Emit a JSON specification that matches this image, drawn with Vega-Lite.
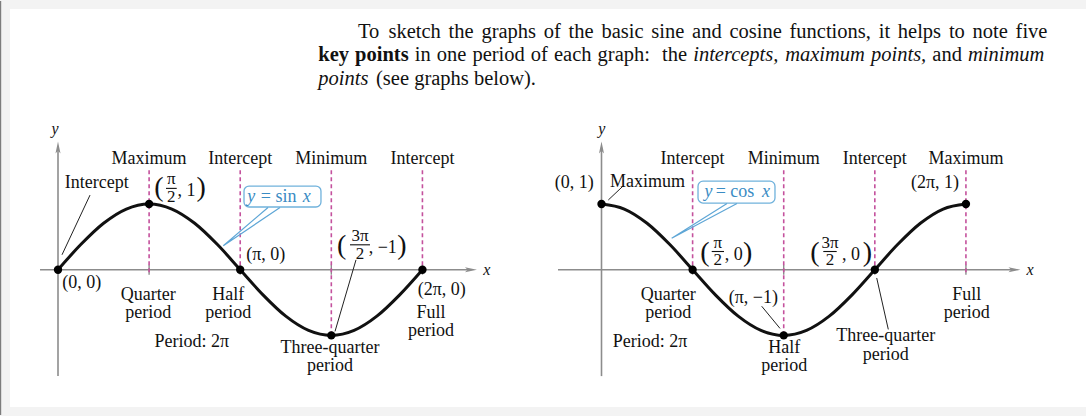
{
"$schema":"https://vega.github.io/schema/vega-lite/v6.json",
"width":1086,"height":416,
"autosize":{"type":"fit","contains":"padding"},
"padding":0,
"background":"#f3f3f3",
"config":{"view":{"stroke":null}},
"datasets":{
"page":[{"pos":10,"pos2":1086,"line":-0.2151,"line2":16.6625}],
"frame":[{"pos":0.6,"line":-0.5527,"line2":17.0}],
"words":[
{"w":"To","pos":358,"line":1,"role":"text"},
{"w":"sketch","pos":388.5,"line":1,"role":"text"},
{"w":"the","pos":448.6,"line":1,"role":"text"},
{"w":"graphs","pos":481.4,"line":1,"role":"text"},
{"w":"of","pos":543.8,"line":1,"role":"text"},
{"w":"the","pos":568.6,"line":1,"role":"text"},
{"w":"basic","pos":601.4,"line":1,"role":"text"},
{"w":"sine","pos":651.3,"line":1,"role":"text"},
{"w":"and","pos":692.1,"line":1,"role":"text"},
{"w":"cosine","pos":729.4,"line":1,"role":"text"},
{"w":"functions,","pos":789.5,"line":1,"role":"text"},
{"w":"it","pos":878.7,"line":1,"role":"text"},
{"w":"helps","pos":897.8,"line":1,"role":"text"},
{"w":"to","pos":948.9,"line":1,"role":"text"},
{"w":"note","pos":972.6,"line":1,"role":"text"},
{"w":"five","pos":1015.6,"line":1,"role":"text"},
{"w":"key","pos":318.3,"line":2,"role":"key term"},
{"w":"points","pos":355.1,"line":2,"role":"key term"},
{"w":"in","pos":414.7,"line":2,"role":"text"},
{"w":"one","pos":436.7,"line":2,"role":"text"},
{"w":"period","pos":472.4,"line":2,"role":"text"},
{"w":"of","pos":530.8,"line":2,"role":"text"},
{"w":"each","pos":554,"line":2,"role":"text"},
{"w":"graph:","pos":597.6,"line":2,"role":"text"},
{"w":"the","pos":662.1,"line":2,"role":"text"},
{"w":"intercepts,","pos":693.2,"line":2,"role":"emphasis"},
{"w":"maximum","pos":785.2,"line":2,"role":"emphasis"},
{"w":"points,","pos":871,"line":2,"role":"emphasis"},
{"w":"and","pos":932.3,"line":2,"role":"text"},
{"w":"minimum","pos":968,"line":2,"role":"emphasis"},
{"w":"points","pos":318.3,"line":3,"role":"emphasis"},
{"w":"(see graphs below).","pos":376,"line":3,"role":"text"}
],
"curve":[
{"panel":"sin","x":0,"y":0},{"panel":"sin","x":0.3927,"y":0.3827},{"panel":"sin","x":0.7854,"y":0.7071},{"panel":"sin","x":1.1781,"y":0.9239},{"panel":"sin","x":1.5708,"y":1},{"panel":"sin","x":1.9635,"y":0.9239},{"panel":"sin","x":2.3562,"y":0.7071},{"panel":"sin","x":2.7489,"y":0.3827},{"panel":"sin","x":3.1416,"y":0},{"panel":"sin","x":3.5343,"y":-0.3827},{"panel":"sin","x":3.927,"y":-0.7071},{"panel":"sin","x":4.3197,"y":-0.9239},{"panel":"sin","x":4.7124,"y":-1},{"panel":"sin","x":5.1051,"y":-0.9239},{"panel":"sin","x":5.4978,"y":-0.7071},{"panel":"sin","x":5.8905,"y":-0.3827},{"panel":"sin","x":6.2832,"y":0},
{"panel":"cos","x":0,"y":1},{"panel":"cos","x":0.3927,"y":0.9239},{"panel":"cos","x":0.7854,"y":0.7071},{"panel":"cos","x":1.1781,"y":0.3827},{"panel":"cos","x":1.5708,"y":0},{"panel":"cos","x":1.9635,"y":-0.3827},{"panel":"cos","x":2.3562,"y":-0.7071},{"panel":"cos","x":2.7489,"y":-0.9239},{"panel":"cos","x":3.1416,"y":-1},{"panel":"cos","x":3.5343,"y":-0.9239},{"panel":"cos","x":3.927,"y":-0.7071},{"panel":"cos","x":4.3197,"y":-0.3827},{"panel":"cos","x":4.7124,"y":0},{"panel":"cos","x":5.1051,"y":0.3827},{"panel":"cos","x":5.4978,"y":0.7071},{"panel":"cos","x":5.8905,"y":0.9239},{"panel":"cos","x":6.2832,"y":1}
],
"keypts":[
{"panel":"sin","x":0,"y":0},{"panel":"sin","x":1.5708,"y":1},{"panel":"sin","x":3.1416,"y":0},{"panel":"sin","x":4.7124,"y":-1},{"panel":"sin","x":6.2832,"y":0},
{"panel":"cos","x":0,"y":1},{"panel":"cos","x":1.5708,"y":0},{"panel":"cos","x":3.1416,"y":-1},{"panel":"cos","x":4.7124,"y":0},{"panel":"cos","x":6.2832,"y":1}
],
"segs":[
{"panel":"sin","kind":"axis","x":-0.31,"y":0,"x2":7.12,"y2":0},
{"panel":"sin","kind":"axis","x":0,"y":-1.62,"x2":0,"y2":1.86},
{"panel":"sin","kind":"tick","x":1.5708,"y":-0.076,"x2":1.5708,"y2":0.076},
{"panel":"sin","kind":"tick","x":3.1416,"y":-0.076,"x2":3.1416,"y2":0.076},
{"panel":"sin","kind":"tick","x":4.7124,"y":-0.076,"x2":4.7124,"y2":0.076},
{"panel":"sin","kind":"tick","x":6.2832,"y":-0.076,"x2":6.2832,"y2":0.076},
{"panel":"sin","kind":"guide","x":1.5708,"y":1.515,"x2":1.5708,"y2":-0.076},
{"panel":"sin","kind":"guide","x":3.1416,"y":1.515,"x2":3.1416,"y2":0},
{"panel":"sin","kind":"guide","x":4.7124,"y":1.515,"x2":4.7124,"y2":-1},
{"panel":"sin","kind":"guide","x":6.2832,"y":1.515,"x2":6.2832,"y2":0},
{"panel":"sin","kind":"leader","x":0.552,"y":1.136,"x2":0.069,"y2":0.227},
{"panel":"sin","kind":"leader","x":5.138,"y":0.15,"x2":4.776,"y2":-0.94},
{"panel":"sin","kind":"bar","x":1.862,"y":1.238,"x2":2.047,"y2":1.238},
{"panel":"sin","kind":"bar","x":5.034,"y":0.379,"x2":5.379,"y2":0.379},
{"panel":"cos","kind":"axis","x":-0.75,"y":0,"x2":7.12,"y2":0},
{"panel":"cos","kind":"axis","x":0,"y":-1.62,"x2":0,"y2":1.86},
{"panel":"cos","kind":"tick","x":1.5708,"y":-0.076,"x2":1.5708,"y2":0.076},
{"panel":"cos","kind":"tick","x":3.1416,"y":-0.076,"x2":3.1416,"y2":0.076},
{"panel":"cos","kind":"tick","x":4.7124,"y":-0.076,"x2":4.7124,"y2":0.076},
{"panel":"cos","kind":"tick","x":6.2832,"y":-0.076,"x2":6.2832,"y2":0.076},
{"panel":"cos","kind":"guide","x":1.5708,"y":1.515,"x2":1.5708,"y2":0},
{"panel":"cos","kind":"guide","x":3.1416,"y":1.515,"x2":3.1416,"y2":-1},
{"panel":"cos","kind":"guide","x":4.7124,"y":1.515,"x2":4.7124,"y2":0},
{"panel":"cos","kind":"guide","x":6.2832,"y":1.515,"x2":6.2832,"y2":-0.076},
{"panel":"cos","kind":"leader","x":0.376,"y":1.277,"x2":0.117,"y2":1.061},
{"panel":"cos","kind":"leader","x":2.762,"y":-0.556,"x2":3.078,"y2":-0.894},
{"panel":"cos","kind":"leader","x":4.745,"y":-0.126,"x2":4.945,"y2":-0.909},
{"panel":"cos","kind":"bar","x":1.9,"y":0.277,"x2":2.112,"y2":0.277},
{"panel":"cos","kind":"bar","x":3.824,"y":0.277,"x2":4.055,"y2":0.277}
],
"arrows":[
{"panel":"sin","dir":"right","x":7.12,"y":0},{"panel":"sin","dir":"up","x":0,"y":1.86},
{"panel":"cos","dir":"right","x":7.12,"y":0},{"panel":"cos","dir":"up","x":0,"y":1.86}
],
"boxes":[
{"panel":"sin","x":3.207,"y":0.955,"x2":4.534,"y2":1.273},
{"panel":"cos","x":1.664,"y":1.015,"x2":2.991,"y2":1.348}
],
"pointers":[
{"panel":"sin","i":0,"x":3.621,"y":0.947},{"panel":"sin","i":1,"x":2.85,"y":0.364},{"panel":"sin","i":2,"x":3.828,"y":0.947},
{"panel":"cos","i":0,"x":2.164,"y":1.008},{"panel":"cos","i":1,"x":1.21,"y":0.48},{"panel":"cos","i":2,"x":2.336,"y":1.008}
],
"labels":[
{"panel":"sin","kind":"label","t":"Maximum","x":1.5708,"y":1.682},
{"panel":"sin","kind":"label","t":"Intercept","x":3.1416,"y":1.682},
{"panel":"sin","kind":"label","t":"Minimum","x":4.7124,"y":1.682},
{"panel":"sin","kind":"label","t":"Intercept","x":6.2832,"y":1.682},
{"panel":"sin","kind":"label","t":"Intercept","x":0.667,"y":1.314},
{"panel":"sin","kind":"label","t":"(0, 0)","x":0.409,"y":-0.202},
{"panel":"sin","kind":"label","t":"(π, 0)","x":3.583,"y":0.227},
{"panel":"sin","kind":"label","t":"Quarter","x":1.557,"y":-0.379},
{"panel":"sin","kind":"label","t":"period","x":1.557,"y":-0.656},
{"panel":"sin","kind":"label","t":"Half","x":2.937,"y":-0.379},
{"panel":"sin","kind":"label","t":"period","x":2.937,"y":-0.656},
{"panel":"sin","kind":"label","t":"Period: 2π","x":2.305,"y":-1.101},
{"panel":"sin","kind":"label","t":"Three-quarter","x":4.69,"y":-1.187},
{"panel":"sin","kind":"label","t":"period","x":4.69,"y":-1.465},
{"panel":"sin","kind":"label","t":"(2π, 0)","x":6.615,"y":-0.303},
{"panel":"sin","kind":"label","t":"Full","x":6.431,"y":-0.656},
{"panel":"sin","kind":"label","t":"period","x":6.431,"y":-0.934},
{"panel":"sin","kind":"label","t":", 1","x":2.215,"y":1.202},
{"panel":"sin","kind":"label","t":", −1","x":5.6,"y":0.329},
{"panel":"sin","kind":"paren","t":"(","x":1.741,"y":1.25},
{"panel":"sin","kind":"paren","t":")","x":2.47,"y":1.25},
{"panel":"sin","kind":"paren","t":"(","x":4.891,"y":0.367},
{"panel":"sin","kind":"paren","t":")","x":5.93,"y":0.367},
{"panel":"sin","kind":"frac","t":"π","x":1.952,"y":1.374},
{"panel":"sin","kind":"frac","t":"2","x":1.952,"y":1.112},
{"panel":"sin","kind":"frac","t":"3π","x":5.207,"y":0.512},
{"panel":"sin","kind":"frac","t":"2","x":5.207,"y":0.245},
{"panel":"sin","kind":"var","t":"y","x":-0.052,"y":2.147},
{"panel":"sin","kind":"var","t":"x","x":7.391,"y":0},
{"panel":"sin","kind":"callout","t":"= sin","x":3.805,"y":1.11},
{"panel":"sin","kind":"calloutVar","t":"y","x":3.33,"y":1.11},
{"panel":"sin","kind":"calloutVar","t":"x","x":4.288,"y":1.11},
{"panel":"cos","kind":"label","t":"Intercept","x":1.5708,"y":1.682},
{"panel":"cos","kind":"label","t":"Minimum","x":3.1416,"y":1.682},
{"panel":"cos","kind":"label","t":"Intercept","x":4.7124,"y":1.682},
{"panel":"cos","kind":"label","t":"Maximum","x":6.2832,"y":1.682},
{"panel":"cos","kind":"label","t":"(0, 1)","x":-0.471,"y":1.313},
{"panel":"cos","kind":"label","t":"Maximum","x":0.793,"y":1.338},
{"panel":"cos","kind":"label","t":"(2π, 1)","x":5.75,"y":1.313},
{"panel":"cos","kind":"label","t":"Quarter","x":1.152,"y":-0.379},
{"panel":"cos","kind":"label","t":"period","x":1.152,"y":-0.656},
{"panel":"cos","kind":"label","t":"(π, −1)","x":2.617,"y":-0.429},
{"panel":"cos","kind":"label","t":"Period: 2π","x":0.836,"y":-1.101},
{"panel":"cos","kind":"label","t":"Half","x":3.152,"y":-1.187},
{"panel":"cos","kind":"label","t":"period","x":3.152,"y":-1.465},
{"panel":"cos","kind":"label","t":"Three-quarter","x":4.9,"y":-1.015},
{"panel":"cos","kind":"label","t":"period","x":4.9,"y":-1.3},
{"panel":"cos","kind":"label","t":"Full","x":6.296,"y":-0.379},
{"panel":"cos","kind":"label","t":"period","x":6.296,"y":-0.656},
{"panel":"cos","kind":"label","t":", 0","x":2.28,"y":0.227},
{"panel":"cos","kind":"label","t":", 0","x":4.302,"y":0.227},
{"panel":"cos","kind":"paren","t":"(","x":1.784,"y":0.253},
{"panel":"cos","kind":"paren","t":")","x":2.52,"y":0.253},
{"panel":"cos","kind":"paren","t":"(","x":3.681,"y":0.253},
{"panel":"cos","kind":"paren","t":")","x":4.586,"y":0.253},
{"panel":"cos","kind":"frac","t":"π","x":2.006,"y":0.41},
{"panel":"cos","kind":"frac","t":"2","x":2.006,"y":0.143},
{"panel":"cos","kind":"frac","t":"3π","x":3.94,"y":0.41},
{"panel":"cos","kind":"frac","t":"2","x":3.94,"y":0.143},
{"panel":"cos","kind":"var","t":"y","x":0.003,"y":2.147},
{"panel":"cos","kind":"var","t":"x","x":7.388,"y":0},
{"panel":"cos","kind":"callout","t":"= cos","x":2.302,"y":1.182},
{"panel":"cos","kind":"calloutVar","t":"y","x":1.845,"y":1.182},
{"panel":"cos","kind":"calloutVar","t":"x","x":2.836,"y":1.182}
]
},
"layer":[
{"layer":[
{"data":{"name":"page"},"mark":{"type":"rect","fill":"#ffffff"},"encoding":{"x":{"field":"pos","type":"quantitative","scale":{"domain":[0,1086],"nice":false,"zero":false},"axis":null},"x2":{"field":"pos2"},"y":{"field":"line","type":"quantitative","scale":{"domain":[-0.5527,17.0],"reverse":true,"nice":false,"zero":false},"axis":null},"y2":{"field":"line2"}}},
{"data":{"name":"frame"},"mark":{"type":"rule","color":"#7d7d7d","strokeWidth":1.2},"encoding":{"x":{"field":"pos","type":"quantitative","scale":{"domain":[0,1086],"nice":false,"zero":false},"axis":null},"y":{"field":"line","type":"quantitative","scale":{"domain":[-0.5527,17.0],"reverse":true,"nice":false,"zero":false},"axis":null},"y2":{"field":"line2"}}},
{"data":{"name":"words"},"transform":[{"filter":"datum.role==='text'"}],"mark":{"type":"text","font":"Liberation Serif","fontSize":20.5,"align":"left","baseline":"alphabetic","color":"#111111"},"encoding":{"x":{"field":"pos","type":"quantitative","scale":{"domain":[0,1086],"nice":false,"zero":false},"axis":null},"y":{"field":"line","type":"quantitative","scale":{"domain":[-0.5527,17.0],"reverse":true,"nice":false,"zero":false},"axis":null},"text":{"field":"w","type":"nominal"}}},
{"data":{"name":"words"},"transform":[{"filter":"datum.role==='key term'"}],"mark":{"type":"text","font":"Liberation Serif","fontSize":20.5,"fontWeight":"bold","align":"left","baseline":"alphabetic","color":"#111111"},"encoding":{"x":{"field":"pos","type":"quantitative","scale":{"domain":[0,1086],"nice":false,"zero":false},"axis":null},"y":{"field":"line","type":"quantitative","scale":{"domain":[-0.5527,17.0],"reverse":true,"nice":false,"zero":false},"axis":null},"text":{"field":"w","type":"nominal"}}},
{"data":{"name":"words"},"transform":[{"filter":"datum.role==='emphasis'"}],"mark":{"type":"text","font":"Liberation Serif","fontSize":20.5,"fontStyle":"italic","align":"left","baseline":"alphabetic","color":"#111111"},"encoding":{"x":{"field":"pos","type":"quantitative","scale":{"domain":[0,1086],"nice":false,"zero":false},"axis":null},"y":{"field":"line","type":"quantitative","scale":{"domain":[-0.5527,17.0],"reverse":true,"nice":false,"zero":false},"axis":null},"text":{"field":"w","type":"nominal"}}}
]},
{"layer":[
{"data":{"name":"segs"},"transform":[{"filter":"datum.panel==='sin' && datum.kind==='axis'"}],"mark":{"type":"rule","color":"#8c8c8c","strokeWidth":1.6},"encoding":{"x":{"field":"x","type":"quantitative","scale":{"domain":[-1,17.7241],"nice":false,"zero":false},"axis":null},"x2":{"field":"x2"},"y":{"field":"y","type":"quantitative","scale":{"domain":[-2.2121,4.0909],"nice":false,"zero":false},"axis":null},"y2":{"field":"y2"}}},
{"data":{"name":"segs"},"transform":[{"filter":"datum.panel==='sin' && datum.kind==='tick'"}],"mark":{"type":"rule","color":"#8c8c8c","strokeWidth":1.4},"encoding":{"x":{"field":"x","type":"quantitative","scale":{"domain":[-1,17.7241],"nice":false,"zero":false},"axis":null},"x2":{"field":"x2"},"y":{"field":"y","type":"quantitative","scale":{"domain":[-2.2121,4.0909],"nice":false,"zero":false},"axis":null},"y2":{"field":"y2"}}},
{"data":{"name":"segs"},"transform":[{"filter":"datum.panel==='sin' && datum.kind==='guide'"}],"mark":{"type":"rule","color":"#c4519d","strokeWidth":1.6,"strokeDash":[4,3]},"encoding":{"x":{"field":"x","type":"quantitative","scale":{"domain":[-1,17.7241],"nice":false,"zero":false},"axis":null},"x2":{"field":"x2"},"y":{"field":"y","type":"quantitative","scale":{"domain":[-2.2121,4.0909],"nice":false,"zero":false},"axis":null},"y2":{"field":"y2"}}},
{"data":{"name":"arrows"},"transform":[{"filter":"datum.panel==='sin'"}],"mark":{"type":"point","filled":true,"color":"#8c8c8c","size":144,"opacity":1},"encoding":{"x":{"field":"x","type":"quantitative","scale":{"domain":[-1,17.7241],"nice":false,"zero":false},"axis":null},"y":{"field":"y","type":"quantitative","scale":{"domain":[-2.2121,4.0909],"nice":false,"zero":false},"axis":null},"shape":{"field":"dir","type":"nominal","scale":{"domain":["right","up"],"range":["M1,0L-1,-0.42L-0.55,0L-1,0.42Z","M0,-1L-0.42,1L0,0.55L0.42,1Z"]},"legend":null}}},
{"data":{"name":"curve"},"transform":[{"filter":"datum.panel==='sin'"}],"mark":{"type":"line","color":"#111111","strokeWidth":3,"interpolate":"monotone"},"encoding":{"x":{"field":"x","type":"quantitative","scale":{"domain":[-1,17.7241],"nice":false,"zero":false},"axis":null},"y":{"field":"y","type":"quantitative","scale":{"domain":[-2.2121,4.0909],"nice":false,"zero":false},"axis":null}}},
{"data":{"name":"segs"},"transform":[{"filter":"datum.panel==='sin' && datum.kind==='leader'"}],"mark":{"type":"rule","color":"#222222","strokeWidth":1},"encoding":{"x":{"field":"x","type":"quantitative","scale":{"domain":[-1,17.7241],"nice":false,"zero":false},"axis":null},"x2":{"field":"x2"},"y":{"field":"y","type":"quantitative","scale":{"domain":[-2.2121,4.0909],"nice":false,"zero":false},"axis":null},"y2":{"field":"y2"}}},
{"data":{"name":"segs"},"transform":[{"filter":"datum.panel==='sin' && datum.kind==='bar'"}],"mark":{"type":"rule","color":"#111111","strokeWidth":1.1},"encoding":{"x":{"field":"x","type":"quantitative","scale":{"domain":[-1,17.7241],"nice":false,"zero":false},"axis":null},"x2":{"field":"x2"},"y":{"field":"y","type":"quantitative","scale":{"domain":[-2.2121,4.0909],"nice":false,"zero":false},"axis":null},"y2":{"field":"y2"}}},
{"data":{"name":"keypts"},"transform":[{"filter":"datum.panel==='sin'"}],"mark":{"type":"point","filled":true,"color":"#000000","size":70,"opacity":1},"encoding":{"x":{"field":"x","type":"quantitative","scale":{"domain":[-1,17.7241],"nice":false,"zero":false},"axis":null},"y":{"field":"y","type":"quantitative","scale":{"domain":[-2.2121,4.0909],"nice":false,"zero":false},"axis":null}}},
{"data":{"name":"boxes"},"transform":[{"filter":"datum.panel==='sin'"}],"mark":{"type":"rect","fill":"#ffffff","stroke":"#70b2dc","strokeWidth":1.3,"cornerRadius":5},"encoding":{"x":{"field":"x","type":"quantitative","scale":{"domain":[-1,17.7241],"nice":false,"zero":false},"axis":null},"x2":{"field":"x2"},"y":{"field":"y","type":"quantitative","scale":{"domain":[-2.2121,4.0909],"nice":false,"zero":false},"axis":null},"y2":{"field":"y2"}}},
{"data":{"name":"pointers"},"transform":[{"filter":"datum.panel==='sin'"}],"mark":{"type":"line","color":"#5ea6d6","strokeWidth":1.2},"encoding":{"x":{"field":"x","type":"quantitative","scale":{"domain":[-1,17.7241],"nice":false,"zero":false},"axis":null},"y":{"field":"y","type":"quantitative","scale":{"domain":[-2.2121,4.0909],"nice":false,"zero":false},"axis":null},"order":{"field":"i","type":"quantitative"}}},
{"data":{"name":"labels"},"transform":[{"filter":"datum.panel==='sin' && datum.kind==='label'"}],"mark":{"type":"text","font":"Liberation Serif","fontSize":18,"align":"center","baseline":"middle","color":"#111111"},"encoding":{"x":{"field":"x","type":"quantitative","scale":{"domain":[-1,17.7241],"nice":false,"zero":false},"axis":null},"y":{"field":"y","type":"quantitative","scale":{"domain":[-2.2121,4.0909],"nice":false,"zero":false},"axis":null},"text":{"field":"t","type":"nominal"}}},
{"data":{"name":"labels"},"transform":[{"filter":"datum.panel==='sin' && datum.kind==='paren'"}],"mark":{"type":"text","font":"Liberation Serif","fontSize":28,"align":"center","baseline":"middle","color":"#111111"},"encoding":{"x":{"field":"x","type":"quantitative","scale":{"domain":[-1,17.7241],"nice":false,"zero":false},"axis":null},"y":{"field":"y","type":"quantitative","scale":{"domain":[-2.2121,4.0909],"nice":false,"zero":false},"axis":null},"text":{"field":"t","type":"nominal"}}},
{"data":{"name":"labels"},"transform":[{"filter":"datum.panel==='sin' && datum.kind==='frac'"}],"mark":{"type":"text","font":"Liberation Serif","fontSize":17,"align":"center","baseline":"middle","color":"#111111"},"encoding":{"x":{"field":"x","type":"quantitative","scale":{"domain":[-1,17.7241],"nice":false,"zero":false},"axis":null},"y":{"field":"y","type":"quantitative","scale":{"domain":[-2.2121,4.0909],"nice":false,"zero":false},"axis":null},"text":{"field":"t","type":"nominal"}}},
{"data":{"name":"labels"},"transform":[{"filter":"datum.panel==='sin' && datum.kind==='var'"}],"mark":{"type":"text","font":"Liberation Serif","fontSize":16,"fontStyle":"italic","align":"center","baseline":"middle","color":"#111111"},"encoding":{"x":{"field":"x","type":"quantitative","scale":{"domain":[-1,17.7241],"nice":false,"zero":false},"axis":null},"y":{"field":"y","type":"quantitative","scale":{"domain":[-2.2121,4.0909],"nice":false,"zero":false},"axis":null},"text":{"field":"t","type":"nominal"}}},
{"data":{"name":"labels"},"transform":[{"filter":"datum.panel==='sin' && datum.kind==='callout'"}],"mark":{"type":"text","font":"Liberation Serif","fontSize":18,"align":"center","baseline":"middle","color":"#3a8cc4"},"encoding":{"x":{"field":"x","type":"quantitative","scale":{"domain":[-1,17.7241],"nice":false,"zero":false},"axis":null},"y":{"field":"y","type":"quantitative","scale":{"domain":[-2.2121,4.0909],"nice":false,"zero":false},"axis":null},"text":{"field":"t","type":"nominal"}}},
{"data":{"name":"labels"},"transform":[{"filter":"datum.panel==='sin' && datum.kind==='calloutVar'"}],"mark":{"type":"text","font":"Liberation Serif","fontSize":18,"fontStyle":"italic","align":"center","baseline":"middle","color":"#3a8cc4"},"encoding":{"x":{"field":"x","type":"quantitative","scale":{"domain":[-1,17.7241],"nice":false,"zero":false},"axis":null},"y":{"field":"y","type":"quantitative","scale":{"domain":[-2.2121,4.0909],"nice":false,"zero":false},"axis":null},"text":{"field":"t","type":"nominal"}}}
]},
{"layer":[
{"data":{"name":"segs"},"transform":[{"filter":"datum.panel==='cos' && datum.kind==='axis'"}],"mark":{"type":"rule","color":"#8c8c8c","strokeWidth":1.6},"encoding":{"x":{"field":"x","type":"quantitative","scale":{"domain":[-10.3707,8.3534],"nice":false,"zero":false},"axis":null},"x2":{"field":"x2"},"y":{"field":"y","type":"quantitative","scale":{"domain":[-2.2121,4.0909],"nice":false,"zero":false},"axis":null},"y2":{"field":"y2"}}},
{"data":{"name":"segs"},"transform":[{"filter":"datum.panel==='cos' && datum.kind==='tick'"}],"mark":{"type":"rule","color":"#8c8c8c","strokeWidth":1.4},"encoding":{"x":{"field":"x","type":"quantitative","scale":{"domain":[-10.3707,8.3534],"nice":false,"zero":false},"axis":null},"x2":{"field":"x2"},"y":{"field":"y","type":"quantitative","scale":{"domain":[-2.2121,4.0909],"nice":false,"zero":false},"axis":null},"y2":{"field":"y2"}}},
{"data":{"name":"segs"},"transform":[{"filter":"datum.panel==='cos' && datum.kind==='guide'"}],"mark":{"type":"rule","color":"#c4519d","strokeWidth":1.6,"strokeDash":[4,3]},"encoding":{"x":{"field":"x","type":"quantitative","scale":{"domain":[-10.3707,8.3534],"nice":false,"zero":false},"axis":null},"x2":{"field":"x2"},"y":{"field":"y","type":"quantitative","scale":{"domain":[-2.2121,4.0909],"nice":false,"zero":false},"axis":null},"y2":{"field":"y2"}}},
{"data":{"name":"arrows"},"transform":[{"filter":"datum.panel==='cos'"}],"mark":{"type":"point","filled":true,"color":"#8c8c8c","size":144,"opacity":1},"encoding":{"x":{"field":"x","type":"quantitative","scale":{"domain":[-10.3707,8.3534],"nice":false,"zero":false},"axis":null},"y":{"field":"y","type":"quantitative","scale":{"domain":[-2.2121,4.0909],"nice":false,"zero":false},"axis":null},"shape":{"field":"dir","type":"nominal","scale":{"domain":["right","up"],"range":["M1,0L-1,-0.42L-0.55,0L-1,0.42Z","M0,-1L-0.42,1L0,0.55L0.42,1Z"]},"legend":null}}},
{"data":{"name":"curve"},"transform":[{"filter":"datum.panel==='cos'"}],"mark":{"type":"line","color":"#111111","strokeWidth":3,"interpolate":"monotone"},"encoding":{"x":{"field":"x","type":"quantitative","scale":{"domain":[-10.3707,8.3534],"nice":false,"zero":false},"axis":null},"y":{"field":"y","type":"quantitative","scale":{"domain":[-2.2121,4.0909],"nice":false,"zero":false},"axis":null}}},
{"data":{"name":"segs"},"transform":[{"filter":"datum.panel==='cos' && datum.kind==='leader'"}],"mark":{"type":"rule","color":"#222222","strokeWidth":1},"encoding":{"x":{"field":"x","type":"quantitative","scale":{"domain":[-10.3707,8.3534],"nice":false,"zero":false},"axis":null},"x2":{"field":"x2"},"y":{"field":"y","type":"quantitative","scale":{"domain":[-2.2121,4.0909],"nice":false,"zero":false},"axis":null},"y2":{"field":"y2"}}},
{"data":{"name":"segs"},"transform":[{"filter":"datum.panel==='cos' && datum.kind==='bar'"}],"mark":{"type":"rule","color":"#111111","strokeWidth":1.1},"encoding":{"x":{"field":"x","type":"quantitative","scale":{"domain":[-10.3707,8.3534],"nice":false,"zero":false},"axis":null},"x2":{"field":"x2"},"y":{"field":"y","type":"quantitative","scale":{"domain":[-2.2121,4.0909],"nice":false,"zero":false},"axis":null},"y2":{"field":"y2"}}},
{"data":{"name":"keypts"},"transform":[{"filter":"datum.panel==='cos'"}],"mark":{"type":"point","filled":true,"color":"#000000","size":70,"opacity":1},"encoding":{"x":{"field":"x","type":"quantitative","scale":{"domain":[-10.3707,8.3534],"nice":false,"zero":false},"axis":null},"y":{"field":"y","type":"quantitative","scale":{"domain":[-2.2121,4.0909],"nice":false,"zero":false},"axis":null}}},
{"data":{"name":"boxes"},"transform":[{"filter":"datum.panel==='cos'"}],"mark":{"type":"rect","fill":"#ffffff","stroke":"#70b2dc","strokeWidth":1.3,"cornerRadius":5},"encoding":{"x":{"field":"x","type":"quantitative","scale":{"domain":[-10.3707,8.3534],"nice":false,"zero":false},"axis":null},"x2":{"field":"x2"},"y":{"field":"y","type":"quantitative","scale":{"domain":[-2.2121,4.0909],"nice":false,"zero":false},"axis":null},"y2":{"field":"y2"}}},
{"data":{"name":"pointers"},"transform":[{"filter":"datum.panel==='cos'"}],"mark":{"type":"line","color":"#5ea6d6","strokeWidth":1.2},"encoding":{"x":{"field":"x","type":"quantitative","scale":{"domain":[-10.3707,8.3534],"nice":false,"zero":false},"axis":null},"y":{"field":"y","type":"quantitative","scale":{"domain":[-2.2121,4.0909],"nice":false,"zero":false},"axis":null},"order":{"field":"i","type":"quantitative"}}},
{"data":{"name":"labels"},"transform":[{"filter":"datum.panel==='cos' && datum.kind==='label'"}],"mark":{"type":"text","font":"Liberation Serif","fontSize":18,"align":"center","baseline":"middle","color":"#111111"},"encoding":{"x":{"field":"x","type":"quantitative","scale":{"domain":[-10.3707,8.3534],"nice":false,"zero":false},"axis":null},"y":{"field":"y","type":"quantitative","scale":{"domain":[-2.2121,4.0909],"nice":false,"zero":false},"axis":null},"text":{"field":"t","type":"nominal"}}},
{"data":{"name":"labels"},"transform":[{"filter":"datum.panel==='cos' && datum.kind==='paren'"}],"mark":{"type":"text","font":"Liberation Serif","fontSize":28,"align":"center","baseline":"middle","color":"#111111"},"encoding":{"x":{"field":"x","type":"quantitative","scale":{"domain":[-10.3707,8.3534],"nice":false,"zero":false},"axis":null},"y":{"field":"y","type":"quantitative","scale":{"domain":[-2.2121,4.0909],"nice":false,"zero":false},"axis":null},"text":{"field":"t","type":"nominal"}}},
{"data":{"name":"labels"},"transform":[{"filter":"datum.panel==='cos' && datum.kind==='frac'"}],"mark":{"type":"text","font":"Liberation Serif","fontSize":17,"align":"center","baseline":"middle","color":"#111111"},"encoding":{"x":{"field":"x","type":"quantitative","scale":{"domain":[-10.3707,8.3534],"nice":false,"zero":false},"axis":null},"y":{"field":"y","type":"quantitative","scale":{"domain":[-2.2121,4.0909],"nice":false,"zero":false},"axis":null},"text":{"field":"t","type":"nominal"}}},
{"data":{"name":"labels"},"transform":[{"filter":"datum.panel==='cos' && datum.kind==='var'"}],"mark":{"type":"text","font":"Liberation Serif","fontSize":16,"fontStyle":"italic","align":"center","baseline":"middle","color":"#111111"},"encoding":{"x":{"field":"x","type":"quantitative","scale":{"domain":[-10.3707,8.3534],"nice":false,"zero":false},"axis":null},"y":{"field":"y","type":"quantitative","scale":{"domain":[-2.2121,4.0909],"nice":false,"zero":false},"axis":null},"text":{"field":"t","type":"nominal"}}},
{"data":{"name":"labels"},"transform":[{"filter":"datum.panel==='cos' && datum.kind==='callout'"}],"mark":{"type":"text","font":"Liberation Serif","fontSize":18,"align":"center","baseline":"middle","color":"#3a8cc4"},"encoding":{"x":{"field":"x","type":"quantitative","scale":{"domain":[-10.3707,8.3534],"nice":false,"zero":false},"axis":null},"y":{"field":"y","type":"quantitative","scale":{"domain":[-2.2121,4.0909],"nice":false,"zero":false},"axis":null},"text":{"field":"t","type":"nominal"}}},
{"data":{"name":"labels"},"transform":[{"filter":"datum.panel==='cos' && datum.kind==='calloutVar'"}],"mark":{"type":"text","font":"Liberation Serif","fontSize":18,"fontStyle":"italic","align":"center","baseline":"middle","color":"#3a8cc4"},"encoding":{"x":{"field":"x","type":"quantitative","scale":{"domain":[-10.3707,8.3534],"nice":false,"zero":false},"axis":null},"y":{"field":"y","type":"quantitative","scale":{"domain":[-2.2121,4.0909],"nice":false,"zero":false},"axis":null},"text":{"field":"t","type":"nominal"}}}
]}
],
"resolve":{"scale":{"x":"independent","y":"independent"}}
}
